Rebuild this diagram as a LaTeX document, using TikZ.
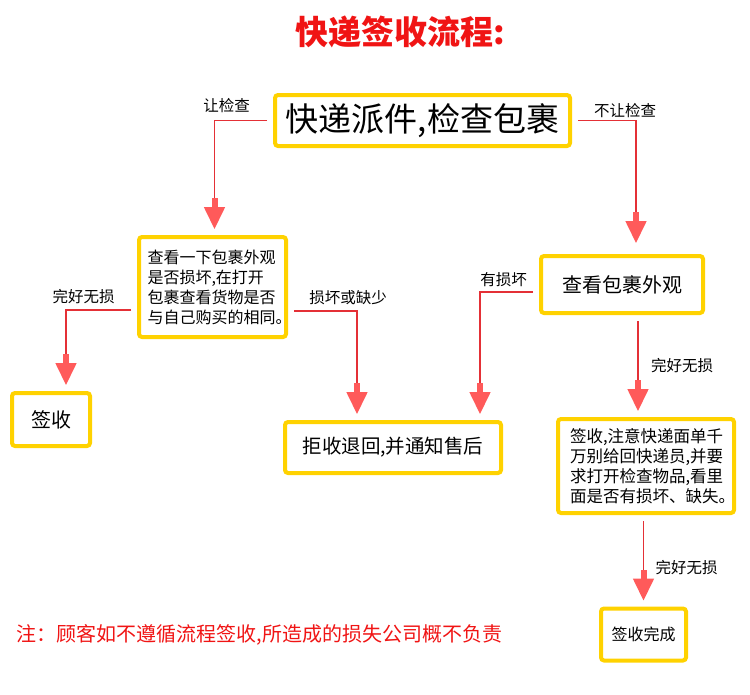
\documentclass[tikz,border=0pt]{standalone}
\usepackage{fontspec}
\setmainfont{Noto Sans CJK SC}
\usetikzlibrary{arrows.meta}

\definecolor{boxyellow}{RGB}{255,210,0}
\definecolor{linered}{RGB}{228,48,54}
\definecolor{headred}{RGB}{255,90,90}
\definecolor{titlered}{RGB}{240,20,20}

\tikzset{
  box/.style={draw=boxyellow, line width=4pt, rounded corners=3pt, fill=white, inner sep=0pt},
  flow/.style={draw=linered, line width=1.7pt, shorten <=6pt, shorten >=6pt,
    -{Rectangle[length=9pt,width=6pt,color=headred]Triangle[length=22pt,width=21pt,color=headred]}},
  tag/.style={font=\fontsize{15.5}{18}\selectfont},
}

\begin{document}
\begin{tikzpicture}[x=1pt,y=-1pt]
  \useasboundingbox (0,0) rectangle (750,694);
  % title
  \node[text=titlered, font=\fontsize{33}{36}\selectfont\bfseries] (title) at (400,32) {快递签收流程:};
  % boxes
  \node[box, minimum width=295pt, minimum height=51pt, font=\fontsize{33}{36}\selectfont] (parcel) at (422.5,120.5) {快递派件,检查包裹};
  \node[box, minimum width=147pt, minimum height=100pt, text width=130pt, align=left, font=\fontsize{16}{20}\selectfont] (inspect) at (212.5,287) {查看一下包裹外观\\是否损坏,在打开\\包裹查看货物是否\\与自己购买的相同。};
  \node[box, minimum width=162pt, minimum height=57pt, font=\fontsize{20}{24}\selectfont] (outside) at (622,284.5) {查看包裹外观};
  \node[box, minimum width=78pt, minimum height=53pt, font=\fontsize{20}{24}\selectfont] (sign) at (51,419.5) {签收};
  \node[box, minimum width=216pt, minimum height=51pt, font=\fontsize{19.5}{24}\selectfont] (reject) at (393,447.5) {拒收退回,并通知售后};
  \node[box, minimum width=176pt, minimum height=94pt, text width=152pt, align=left, font=\fontsize{16.5}{20}\selectfont] (check) at (646,466) {签收,注意快递面单千\\万别给回快递员,并要\\求打开检查物品,看里\\面是否有损坏、缺失。};
  \node[box, minimum width=85pt, minimum height=52pt, font=\fontsize{16}{20}\selectfont] (done) at (643.5,634.5) {签收完成};
  % connectors
  \draw[flow] (parcel.west) -| ([xshift=2pt]inspect.north);
  \node[tag] (lcheck) at (226.5,106) {让检查};
  \draw[flow, shorten >=11pt] (parcel.east) -| ([xshift=14pt]outside.north);
  \node[tag] (lnocheck) at (625,111) {不让检查};
  \draw[flow] ([yshift=-23pt]inspect.west) -| ([xshift=15pt]sign.north);
  \node[tag] (lgood) at (83.5,297) {完好无损};
  \draw[flow] ([yshift=-24pt]inspect.east) -| ([xshift=-36pt]reject.north);
  \node[tag] (lbad) at (348,298) {损坏或缺少};
  \draw[flow] ([yshift=-7.5pt]outside.west) -| ([xshift=87pt]reject.north);
  \node[tag] (ldamaged) at (503.5,280) {有损坏};
  \draw[flow] ([xshift=16pt]outside.south) -- ([xshift=16pt]outside.south |- check.north);
  \node[tag] (lgood2) at (682,366) {完好无损};
  \draw[flow] (check.south -| done.north) -- (done.north);
  \node[tag] (lgood3) at (686.5,568) {完好无损};
  % note
  \node[text=titlered, font=\fontsize{20}{24}\selectfont] (note) at (259.5,635) {注：顾客如不遵循流程签收,所造成的损失公司概不负责};
\end{tikzpicture}
\end{document}
